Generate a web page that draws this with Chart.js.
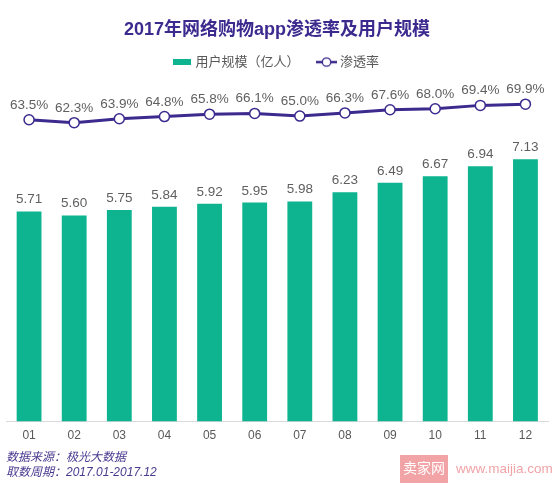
<!DOCTYPE html>
<html>
<head>
<meta charset="utf-8">
<script src="https://cdn.jsdelivr.net/npm/chart.js@4.4.1/dist/chart.umd.min.js"></script>
<style>
  html, body { margin: 0; padding: 0; background: #fff; }
  #wrap { width: 557px; height: 489px; position: relative; }
</style>
</head>
<body>
<div id="wrap"><canvas id="c" width="557" height="489"></canvas></div>
<script>
const categories = ['01','02','03','04','05','06','07','08','09','10','11','12'];
const userScale = [5.71, 5.60, 5.75, 5.84, 5.92, 5.95, 5.98, 6.23, 6.49, 6.67, 6.94, 7.13];
const penetration = [63.5, 62.3, 63.9, 64.8, 65.8, 66.1, 65.0, 66.3, 67.6, 68.0, 69.4, 69.9];
const seriesNames = ['用户规模（亿人）', '渗透率'];
const titleText = '2017年网络购物app渗透率及用户规模';
const footerLines = ['数据来源：极光大数据', '取数周期：2017.01-2017.12'];

const GREEN = '#0DB48F';
const PURPLE = '#3C2A8E';
const GRAY = '#595959';
const FONT = "'Liberation Sans', 'Noto Sans CJK SC', sans-serif";

// legend icons
function barIcon() {
  const c = document.createElement('canvas');
  c.width = 18; c.height = 6;
  const g = c.getContext('2d');
  g.fillStyle = GREEN; g.fillRect(0, 0, 18, 6);
  return c;
}
function lineIcon() {
  const c = document.createElement('canvas');
  c.width = 21; c.height = 12;
  const g = c.getContext('2d');
  g.strokeStyle = PURPLE; g.lineWidth = 2.5;
  g.beginPath(); g.moveTo(0, 6); g.lineTo(21, 6); g.stroke();
  g.fillStyle = '#fff'; g.lineWidth = 1.3;
  g.beginPath(); g.arc(10.5, 6, 4.2, 0, Math.PI * 2); g.fill(); g.stroke();
  return c;
}
const icons = [barIcon(), lineIcon()];

const valueLabels = {
  id: 'valueLabels',
  afterDatasetsDraw(chart) {
    const ctx = chart.ctx;
    ctx.save();
    ctx.textAlign = 'center';
    ctx.textBaseline = 'bottom';
    ctx.fillStyle = '#5f5f5f';
    ctx.font = '13.5px ' + FONT;
    chart.data.datasets.forEach((ds, i) => {
      const meta = chart.getDatasetMeta(i);
      meta.data.forEach((el, j) => {
        const v = ds.data[j];
        if (ds.type === 'bar') {
          ctx.fillText(v.toFixed(2), el.x, el.y - 5);
        } else {
          ctx.fillText(v.toFixed(1) + '%', el.x, el.y - 8);
        }
      });
    });
    ctx.restore();
  }
};

const watermark = {
  id: 'watermark',
  afterDraw(chart) {
    const ctx = chart.ctx;
    ctx.save();
    ctx.fillStyle = '#F2A3A6';
    ctx.fillRect(400, 455, 48, 28);
    ctx.fillStyle = '#ffffff';
    ctx.font = '14px ' + FONT;
    ctx.textAlign = 'center';
    ctx.textBaseline = 'middle';
    ctx.fillText('卖家网', 424, 469.5);
    ctx.fillStyle = '#F0A4A8';
    ctx.textAlign = 'left';
    ctx.font = '13.5px ' + FONT;
    ctx.fillText('www.maijia.com', 456, 469.5);
    ctx.restore();
  }
};

new Chart(document.getElementById('c'), {
  data: {
    labels: categories,
    datasets: [
      {
        type: 'bar',
        label: seriesNames[0],
        data: userScale,
        backgroundColor: GREEN,
        yAxisID: 'y',
        barPercentage: 0.55,
        categoryPercentage: 1.0,
        order: 2
      },
      {
        type: 'line',
        label: seriesNames[1],
        data: penetration,
        borderColor: PURPLE,
        borderWidth: 3,
        pointRadius: 5,
        pointBackgroundColor: '#ffffff',
        pointBorderColor: PURPLE,
        pointBorderWidth: 1.5,
        yAxisID: 'y1',
        order: 1
      }
    ]
  },
  options: {
    responsive: false,
    animation: false,
    devicePixelRatio: 1,
    layout: { padding: { left: 6, right: 9, top: 0, bottom: 0 } },
    plugins: {
      title: {
        display: true,
        text: titleText,
        color: PURPLE,
        font: { size: 18, weight: 'bold', family: FONT },
        padding: { top: 19, bottom: -5 }
      },
      subtitle: {
        display: true,
        position: 'bottom',
        align: 'start',
        text: footerLines,
        color: '#4A3A8F',
        font: { size: 12, style: 'italic', family: FONT, lineHeight: 1.25 },
        padding: { top: 0, bottom: 9 }
      },
      legend: {
        display: true,
        labels: {
          color: GRAY,
          font: { size: 13, family: FONT },
          usePointStyle: true,
          pointStyleWidth: 14,
          padding: 20,
          generateLabels(chart) {
            return chart.data.datasets.map((ds, i) => ({
              text: ds.label,
              pointStyle: icons[i],
              fontColor: GRAY,
              datasetIndex: i,
              hidden: false,
              lineWidth: 0
            }));
          }
        }
      },
      tooltip: { enabled: false }
    },
    scales: {
      x: {
        grid: { display: false, drawTicks: false },
        border: { color: '#d9d9d9', width: 1 },
        ticks: { color: GRAY, font: { size: 12, family: FONT }, padding: 7 }
      },
      y: { display: false, min: 0, max: 9.32 },
      y1: { display: false, min: -60.5, max: 80.4 }
    }
  },
  plugins: [valueLabels, watermark]
});
</script>
</body>
</html>
